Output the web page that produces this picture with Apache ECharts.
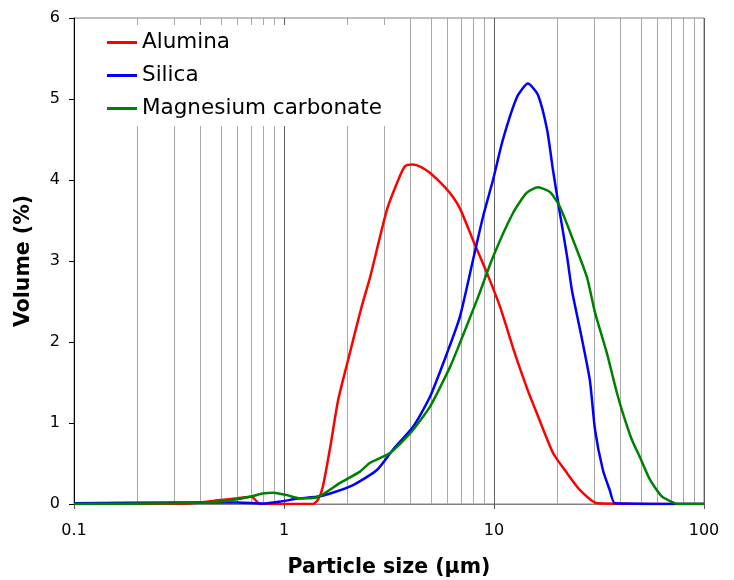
<!DOCTYPE html>
<html>
<head>
<meta charset="utf-8">
<script src="https://cdn.jsdelivr.net/npm/echarts@6/dist/echarts.min.js"></script>
<style>
  html, body { margin: 0; padding: 0; background: #fff; }
  #chart { width: 734px; height: 580px; }
</style>
</head>
<body>
<div id="chart"></div>
<script>
// particle size (µm) and volume (%)
const aluminaX = [0.1, 0.3, 0.4, 0.5, 0.6, 0.7, 0.77, 1.37, 1.45, 1.53, 1.66, 1.81, 2.02, 2.35, 2.57, 3.09, 3.5, 3.77, 4.11, 4.5, 4.95, 5.5, 6.17, 6.88, 7.94, 9.26, 10.7, 12.6, 14.5, 16.0, 19.1, 22.3, 25.7, 30.9, 100];
const aluminaY = [0, 0, 0.02, 0.05, 0.07, 0.09, 0, 0, 0.05, 0.21, 0.70, 1.28, 1.78, 2.45, 2.80, 3.63, 4.0, 4.17, 4.19, 4.16, 4.09, 3.98, 3.84, 3.65, 3.26, 2.85, 2.43, 1.85, 1.40, 1.12, 0.63, 0.38, 0.17, 0.01, 0];

const silicaX = [0.1, 0.3, 0.6, 0.8, 0.96, 1.19, 1.43, 1.66, 2.12, 2.77, 3.30, 4.11, 4.95, 5.97, 6.88, 7.94, 8.87, 9.89, 11.0, 12.9, 14.5, 16.2, 17.9, 19.1, 20.6, 22.3, 23.5, 25.7, 28.6, 30.3, 33.0, 35.6, 37.7, 100];
const silicaY = [0.01, 0.02, 0.02, 0.005, 0.03, 0.07, 0.09, 0.13, 0.23, 0.42, 0.67, 0.95, 1.32, 1.86, 2.31, 3.01, 3.55, 4.0, 4.49, 5.03, 5.19, 5.05, 4.62, 4.12, 3.59, 3.05, 2.64, 2.15, 1.53, 0.91, 0.42, 0.17, 0.01, 0];

const mgcarbX = [0.1, 0.3, 0.5, 0.69, 0.79, 0.89, 1.03, 1.19, 1.43, 1.85, 2.30, 2.57, 3.20, 3.98, 4.95, 6.17, 6.67, 8.3, 9.89, 12.3, 14.3, 16.2, 18.5, 20.6, 23.8, 27.7, 30.3, 34.5, 38.5, 41.1, 45.4, 49.5, 55.3, 63.1, 71.1, 75, 100];
const mgcarbY = [0, 0.01, 0.03, 0.09, 0.13, 0.14, 0.11, 0.07, 0.08, 0.26, 0.40, 0.51, 0.63, 0.87, 1.20, 1.69, 1.90, 2.52, 3.05, 3.59, 3.84, 3.91, 3.85, 3.67, 3.26, 2.80, 2.36, 1.86, 1.37, 1.12, 0.79, 0.58, 0.30, 0.09, 0.02, 0, 0];

// minor vertical grid lines (2..9 in each decade)
const minorGrid = [0.2, 0.3, 0.4, 0.5, 0.6, 0.7, 0.8, 0.9, 2, 3, 4, 5, 6, 7, 8, 9, 20, 30, 40, 50, 60, 70, 80, 90];

const seriesNames = ["Alumina", "Silica", "Magnesium carbonate"];
const FONT = "DejaVu Sans";

const zip = (xs, ys) => xs.map((x, i) => [x, ys[i]]);

const curve = (name, color, xs, ys) => ({
  name: name,
  type: "line",
  data: zip(xs, ys),
  showSymbol: false,
  symbol: "none",
  smooth: 0.2,
  z: 3,
  lineStyle: { color: color, width: 2.5 },
  itemStyle: { color: color },
});

const chart = echarts.init(document.getElementById("chart"), null, { renderer: "canvas" });

chart.setOption({
  animation: false,
  backgroundColor: "#fff",
  grid: {
    left: 74,
    right: 30,
    top: 18,
    bottom: 76,
    outerBoundsMode: "none",
    containLabel: false,
    show: true,
    borderColor: "#808080",
    borderWidth: 1,
  },
  legend: {
    data: seriesNames,
    orient: "vertical",
    left: 100,
    top: 25,
    z: 10,
    padding: [6, 10, 6, 7],
    backgroundColor: "#fff",
    itemWidth: 30,
    itemHeight: 3,
    itemGap: 10,
    icon: "rect",
    textStyle: { fontFamily: FONT, fontSize: 21.5, color: "#000", lineHeight: 23 },
  },
  xAxis: {
    type: "log",
    logBase: 10,
    min: 0.1,
    max: 100,
    name: "Particle size (µm)",
    nameLocation: "middle",
    nameGap: 53,
    nameTextStyle: { fontFamily: FONT, fontSize: 20.5, fontWeight: "bold", color: "#000" },
    axisLine: { lineStyle: { color: "#808080", width: 1 } },
    axisTick: { show: true, length: 5, lineStyle: { color: "#555" } },
    axisLabel: {
      fontFamily: FONT,
      fontSize: 16,
      color: "#000",
      margin: 19,
      formatter: (v) => String(+v.toPrecision(3)),
    },
    splitLine: { show: true, lineStyle: { color: "#606060", width: 1 } },
  },
  yAxis: {
    type: "value",
    min: 0,
    max: 6,
    interval: 1,
    name: "Volume (%)",
    nameLocation: "middle",
    nameGap: 40,
    nameTextStyle: { fontFamily: FONT, fontSize: 20.5, fontWeight: "bold", color: "#000" },
    axisLine: { show: true, lineStyle: { color: "#000", width: 1 } },
    axisTick: { show: true, length: 5, lineStyle: { color: "#000" } },
    axisLabel: { fontFamily: FONT, fontSize: 16, color: "#000", margin: 14 },
    splitLine: { show: false },
  },
  series: [
    {
      // carrier for the minor grid lines only
      name: "grid",
      type: "line",
      data: [[0.1, 0]],
      showSymbol: false,
      symbol: "none",
      silent: true,
      z: 1,
      lineStyle: { opacity: 0 },
      markLine: {
        silent: true,
        symbol: "none",
        animation: false,
        z: 1,
        label: { show: false },
        lineStyle: { color: "#a8a8a8", width: 1, type: "solid" },
        emphasis: { disabled: true },
        data: minorGrid.map((v) => ({ xAxis: v })),
      },
    },
    curve(seriesNames[0], "#ff0000", aluminaX, aluminaY),
    curve(seriesNames[1], "#0000ff", silicaX, silicaY),
    curve(seriesNames[2], "#008000", mgcarbX, mgcarbY),
  ],
});
</script>
</body>
</html>
